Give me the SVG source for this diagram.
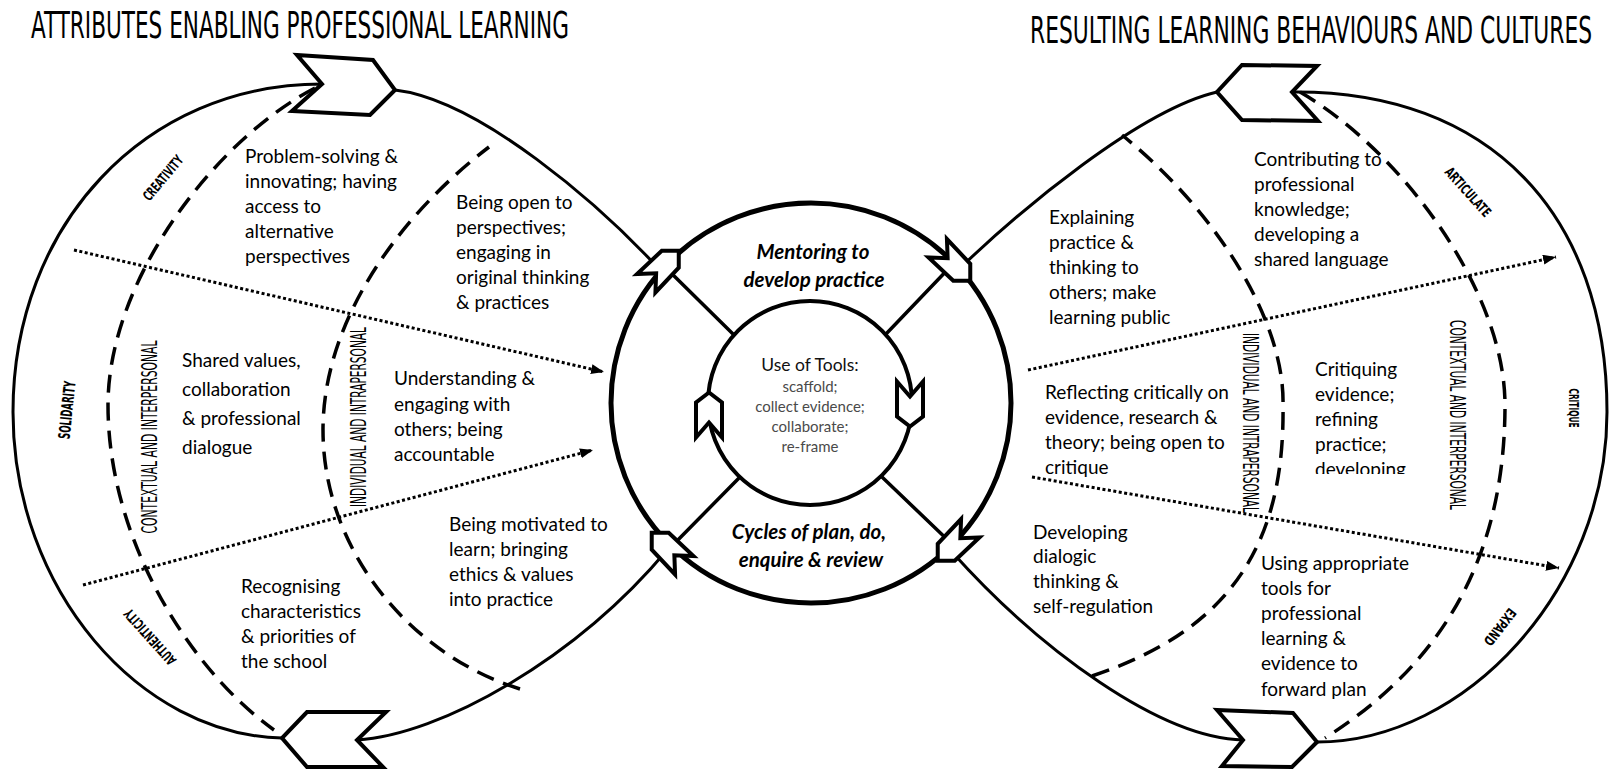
<svg xmlns="http://www.w3.org/2000/svg" width="1610" height="769" viewBox="0 0 1610 769">
<style>
.lobe{fill:none;stroke:#000;stroke-width:3;stroke-linejoin:round}
.ring{fill:none;stroke:#000;stroke-width:5}
.inner{fill:none;stroke:#000;stroke-width:4}
.xl{fill:none;stroke:#000;stroke-width:3.5}
.dash{fill:none;stroke:#000;stroke-width:3.5;stroke-dasharray:18 10}
.dot{fill:none;stroke:#000;stroke-width:3;stroke-dasharray:3 2.5}
.chev{fill:#fff;stroke:#000;stroke-width:4;stroke-linejoin:miter}
.t{font-family:Lato,'Open Sans','Liberation Sans',sans-serif;font-size:19px;fill:#000}
.c{font-family:Lato,'Open Sans','Liberation Sans',sans-serif;font-size:20.5px;font-weight:bold;font-style:italic;text-anchor:middle;fill:#000}
.u{font-family:Lato,'Open Sans','Liberation Sans',sans-serif;font-size:17.5px;text-anchor:middle;fill:#111}
.s{font-family:Lato,'Open Sans','Liberation Sans',sans-serif;font-size:15px;text-anchor:middle;fill:#4a4a4a}
.ttl{font-family:'Liberation Sans Narrow','DejaVu Sans Condensed','Liberation Sans',sans-serif;font-size:37px;fill:#000}
.v{font-family:'Liberation Sans Narrow','DejaVu Sans Condensed','Liberation Sans',sans-serif;font-size:21px;text-anchor:middle;fill:#000}
.l{font-family:'Liberation Sans Narrow','DejaVu Sans Condensed','Liberation Sans',sans-serif;font-size:14px;font-weight:bold;text-anchor:middle;fill:#000}
</style>
<defs>
<polygon id="chS" points="23,0 11,-12 -23,-13 -9,0 -23,13 11,12" fill="#fff" stroke="#000" stroke-width="4" stroke-linejoin="miter"/>
<polygon id="chI" points="22,0 12,-13 -23,-13 -8,0 -23,13 12,13" fill="#fff" stroke="#000" stroke-width="4" stroke-linejoin="miter"/>
<marker id="ah" viewBox="0 0 13 10" refX="13" refY="5" markerWidth="13" markerHeight="10" markerUnits="userSpaceOnUse" orient="auto"><path d="M0,0 L13,5 L0,10 z" fill="#000"/></marker>
<clipPath id="critClip"><rect x="1300" y="350" width="130" height="124"/></clipPath>
</defs>
<rect width="1610" height="769" fill="#fff"/>

<g id="titles">
<text class="ttl" transform="translate(31,38) scale(0.55,1)" textLength="978" lengthAdjust="spacingAndGlyphs">ATTRIBUTES ENABLING PROFESSIONAL LEARNING</text>
<text class="ttl" transform="translate(1030,43) scale(0.55,1)" textLength="1022" lengthAdjust="spacingAndGlyphs">RESULTING LEARNING BEHAVIOURS AND CULTURES</text>
</g>

<g id="connectors">
<path class="lobe" d="M660,270 C600,205 480,100 395,90 L322,84 C145,84 13,225 13,412 C13,590 140,735 282,738 L357,740 C440,735 575,660 668,549"/>
<path class="lobe" d="M956,272 C1020,210 1140,110 1217,92 L1292,92 C1490,90 1607,215 1607,412 C1607,590 1465,742 1317,742 L1243,740 C1160,738 1040,650 952,552"/>
<path class="xl" d="M665,267 L734,335 M670,548 L739,478 M953,264 L886,334 M954,546 L882,477"/>
<path class="dash" d="M315,88 C215,140 108,280 108,405 C108,540 190,670 274,730"/>
<path class="dash" d="M520,689 C410,655 323,550 323,430 C323,320 400,215 489,147"/>
<path class="dash" d="M1092,676 C1230,630 1285,545 1283,405 C1285,320 1215,210 1122,135"/>
<path class="dash" d="M1300,92 C1400,150 1505,290 1505,405 C1505,560 1440,665 1325,738"/>
<path class="dot" marker-end="url(#ah)" d="M74,250 L604,372"/>
<path class="dot" marker-end="url(#ah)" d="M83,585 L593,450"/>
<path class="dot" marker-end="url(#ah)" d="M1028,370 L1556,257"/>
<path class="dot" marker-end="url(#ah)" d="M1032,477 L1559,568"/>
</g>

<g id="lobe-chevrons">
<polygon class="chev" points="297,55 373,60 395,90 370,115 292,111 322,84"/>
<polygon class="chev" points="307,712 386,712 357,740 383,767 307,767 282,738"/>
<polygon class="chev" points="1242,65 1317,66 1292,92 1318,121 1242,120 1217,92"/>
<polygon class="chev" points="1217,710 1293,713 1317,742 1292,767 1222,766 1243,740"/>
</g>

<g id="center">
<circle class="ring" cx="811" cy="403" r="200"/>
<circle class="inner" cx="810" cy="403" r="102"/>
<use href="#chS" transform="translate(662.5,267) rotate(-45)"/>
<use href="#chS" transform="translate(954,264.5) rotate(45)"/>
<use href="#chS" transform="translate(954,544.5) rotate(135)"/>
<use href="#chS" transform="translate(668,549) rotate(-135)"/>
<use href="#chI" transform="translate(910,404.5) rotate(90)"/>
<use href="#chI" transform="translate(709,414.5) rotate(-90)"/>
<g id="mentoring"><text class="c"><tspan x="813" y="259">Mentoring to</tspan><tspan x="814" y="287">develop practice</tspan></text></g>
<g id="cycles"><text class="c"><tspan x="809" y="539">Cycles of plan, do,</tspan><tspan x="811" y="567">enquire &amp; review</tspan></text></g>
<g id="tools"><text class="u" x="810" y="371">Use of Tools:</text>
<text class="s"><tspan x="810" y="392">scaffold;</tspan><tspan x="810" y="412">collect evidence;</tspan><tspan x="810" y="432">collaborate;</tspan><tspan x="810" y="452">re-frame</tspan></text></g>
</g>

<g id="left-labels">
<text class="v" transform="translate(157,437) rotate(-90)" textLength="193" lengthAdjust="spacingAndGlyphs">CONTEXTUAL  AND  INTERPERSONAL</text>
<text class="v" transform="translate(366,417) rotate(-90)" textLength="180" lengthAdjust="spacingAndGlyphs">INDIVIDUAL  AND  INTRAPERSONAL</text>
<text class="l" transform="translate(163,178) rotate(-50)" dy="0.35em" textLength="54" lengthAdjust="spacingAndGlyphs">CREATIVITY</text>
<text class="l" transform="translate(67,410) rotate(-84)" dy="0.35em" style="font-size:16px" textLength="58" lengthAdjust="spacingAndGlyphs">SOLIDARITY</text>
<text class="l" transform="translate(150,637) rotate(-132)" dy="0.35em" textLength="70" lengthAdjust="spacingAndGlyphs">AUTHENTICITY</text>
</g>

<g id="right-labels">
<text class="v" transform="translate(1243,423) rotate(90)" textLength="180" lengthAdjust="spacingAndGlyphs">INDIVIDUAL  AND  INTRAPERSONAL</text>
<text class="v" transform="translate(1450,415) rotate(90)" textLength="190" lengthAdjust="spacingAndGlyphs">CONTEXTUAL  AND  INTERPERSONAL</text>
<text class="l" transform="translate(1468,192) rotate(48)" dy="0.35em" textLength="61" lengthAdjust="spacingAndGlyphs">ARTICULATE</text>
<text class="l" transform="translate(1574,408) rotate(90)" dy="0.35em" textLength="39" lengthAdjust="spacingAndGlyphs">CRITIQUE</text>
<text class="l" transform="translate(1500,627) rotate(128)" dy="0.35em" textLength="43" lengthAdjust="spacingAndGlyphs">EXPAND</text>
</g>

<g id="node-problem-solving"><text class="t"><tspan x="245" y="163">Problem-solving &amp;</tspan><tspan x="245" y="188">innovating; having</tspan><tspan x="245" y="213">access to</tspan><tspan x="245" y="238">alternative</tspan><tspan x="245" y="263">perspectives</tspan></text></g>
<g id="node-open"><text class="t"><tspan x="456" y="209">Being open to</tspan><tspan x="456" y="234">perspectives;</tspan><tspan x="456" y="259">engaging in</tspan><tspan x="456" y="284">original thinking</tspan><tspan x="456" y="309">&amp; practices</tspan></text></g>
<g id="node-shared"><text class="t"><tspan x="182" y="367">Shared values,</tspan><tspan x="182" y="396">collaboration</tspan><tspan x="182" y="425">&amp; professional</tspan><tspan x="182" y="454">dialogue</tspan></text></g>
<g id="node-understanding"><text class="t"><tspan x="394" y="385">Understanding &amp;</tspan><tspan x="394" y="411">engaging with</tspan><tspan x="394" y="436">others; being</tspan><tspan x="394" y="461">accountable</tspan></text></g>
<g id="node-motivated"><text class="t"><tspan x="449" y="531">Being motivated to</tspan><tspan x="449" y="556">learn; bringing</tspan><tspan x="449" y="581">ethics &amp; values</tspan><tspan x="449" y="606">into practice</tspan></text></g>
<g id="node-recognising"><text class="t"><tspan x="241" y="593">Recognising</tspan><tspan x="241" y="618">characteristics</tspan><tspan x="241" y="643">&amp; priorities of</tspan><tspan x="241" y="668">the school</tspan></text></g>

<g id="node-contributing"><text class="t"><tspan x="1254" y="166">Contributing to</tspan><tspan x="1254" y="191">professional</tspan><tspan x="1254" y="216">knowledge;</tspan><tspan x="1254" y="241">developing a</tspan><tspan x="1254" y="266">shared language</tspan></text></g>
<g id="node-explaining"><text class="t"><tspan x="1049" y="224">Explaining</tspan><tspan x="1049" y="249">practice &amp;</tspan><tspan x="1049" y="274">thinking to</tspan><tspan x="1049" y="299">others; make</tspan><tspan x="1049" y="324">learning public</tspan></text></g>
<g id="node-critiquing" clip-path="url(#critClip)"><text class="t"><tspan x="1315" y="376">Critiquing</tspan><tspan x="1315" y="401">evidence;</tspan><tspan x="1315" y="426">refining</tspan><tspan x="1315" y="451">practice;</tspan><tspan x="1315" y="476">developing</tspan></text></g>
<g id="node-reflecting"><text class="t"><tspan x="1045" y="399">Reflecting critically on</tspan><tspan x="1045" y="424">evidence, research &amp;</tspan><tspan x="1045" y="449">theory; being open to</tspan><tspan x="1045" y="474">critique</tspan></text></g>
<g id="node-dialogic"><text class="t"><tspan x="1033" y="539">Developing</tspan><tspan x="1033" y="563">dialogic</tspan><tspan x="1033" y="588">thinking &amp;</tspan><tspan x="1033" y="613">self-regulation</tspan></text></g>
<g id="node-tools"><text class="t"><tspan x="1261" y="570">Using appropriate</tspan><tspan x="1261" y="595">tools for</tspan><tspan x="1261" y="620">professional</tspan><tspan x="1261" y="645">learning &amp;</tspan><tspan x="1261" y="670">evidence to</tspan><tspan x="1261" y="696">forward plan</tspan></text></g>
</svg>
